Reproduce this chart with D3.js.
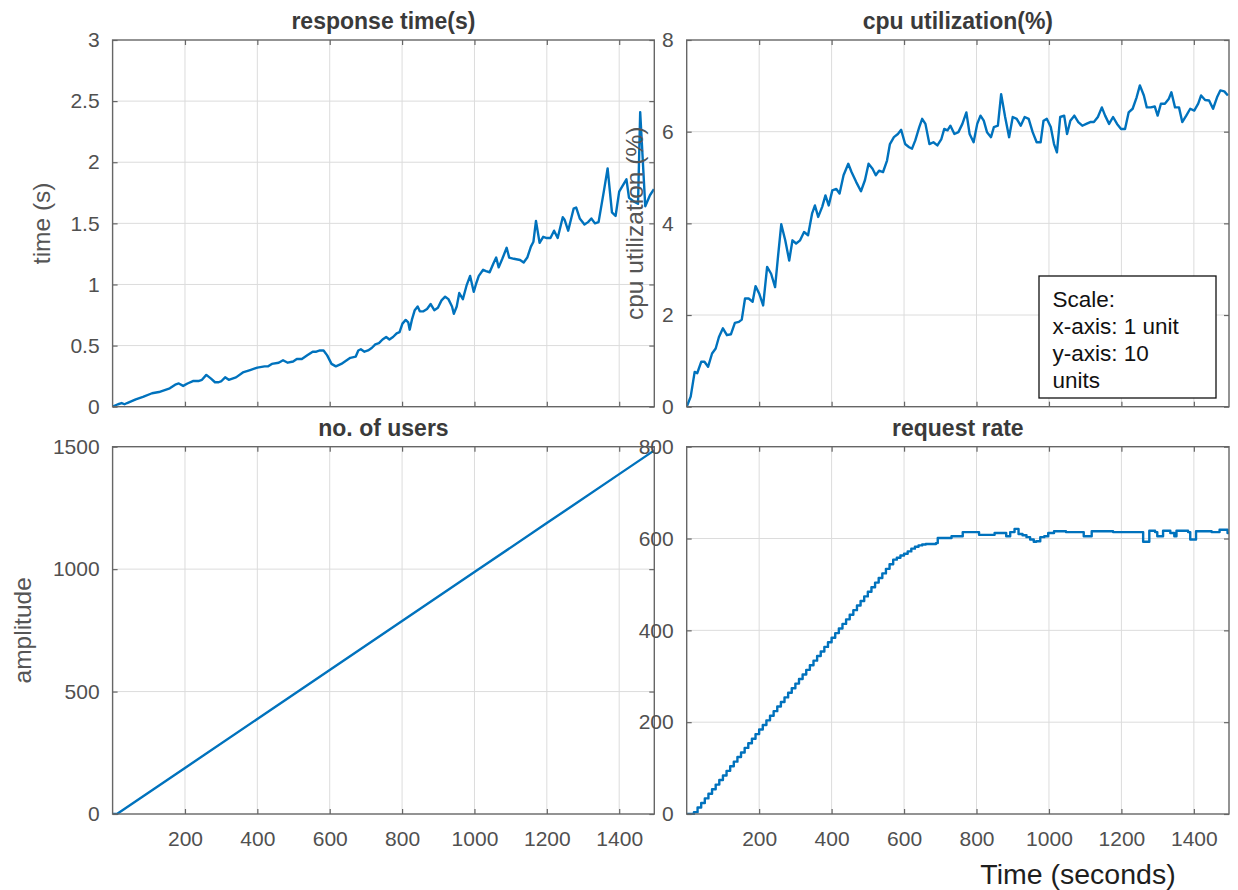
<!DOCTYPE html>
<html>
<head>
<meta charset="utf-8">
<script src="https://cdn.jsdelivr.net/npm/d3@7"></script>
<style>
  body { margin: 0; background: #fff; }
  text { font-family: "Liberation Sans", Arial, Helvetica, sans-serif; }
</style>
</head>
<body>
<svg id="fig" width="1238" height="890"></svg>
<script>
// ---------- shared x axis ----------
const xDomain = [0, 1497];
const xTicks = [200, 400, 600, 800, 1000, 1200, 1400];

// ---------- response time (s) ----------
const respTicks = [0, 0.5, 1, 1.5, 2, 2.5, 3];
const respT = [0,15,25,33,40,64,84,109,128,148,158,173,183,195,207,222,237,247,259,272,283,293,301,311,321,341,360,380,400,420,430,440,459,471,484,499,509,523,538,553,563,573,583,593,605,617,632,647,657,672,679,686,696,706,716,726,736,746,756,765,775,785,793,801,810,817,821,827,835,843,849,859,869,879,889,899,909,919,928,938,943,951,958,968,978,988,998,1005,1012,1024,1032,1042,1052,1060,1067,1077,1089,1096,1109,1126,1136,1146,1156,1163,1170,1180,1190,1200,1210,1220,1230,1244,1249,1259,1274,1281,1291,1304,1314,1323,1333,1343,1358,1368,1380,1390,1400,1408,1420,1427,1440,1452,1458,1472,1485,1496];
const respV = [0,.02,.03,.02,.03,.06,.08,.11,.12,.14,.15,.18,.19,.17,.19,.21,.21,.22,.26,.23,.20,.20,.21,.24,.22,.24,.28,.30,.32,.33,.33,.35,.36,.38,.36,.37,.39,.39,.42,.45,.45,.46,.46,.42,.35,.33,.35,.38,.40,.41,.46,.47,.45,.46,.48,.51,.52,.55,.57,.55,.57,.60,.61,.68,.71,.69,.63,.71,.79,.82,.78,.78,.80,.84,.79,.81,.87,.90,.88,.82,.76,.82,.93,.88,.99,1.07,.94,1.01,1.07,1.12,1.11,1.10,1.17,1.22,1.14,1.21,1.30,1.22,1.21,1.20,1.18,1.22,1.31,1.35,1.52,1.34,1.39,1.38,1.38,1.44,1.38,1.55,1.53,1.44,1.62,1.63,1.54,1.49,1.51,1.54,1.50,1.51,1.77,1.95,1.59,1.56,1.76,1.80,1.86,1.71,1.68,1.66,2.41,1.64,1.73,1.78];

// ---------- cpu utilization (%) ----------
const cpuTicks = [0, 2, 4, 6, 8];
const cpuT = [0,11,22,29,40,49,59,70,80,89,100,111,122,133,144,152,161,171,182,190,200,211,222,233,244,252,261,272,283,292,302,313,324,335,346,354,363,374,383,392,402,413,422,433,446,455,468,481,492,502,513,522,531,542,553,561,572,583,592,603,614,622,631,642,650,659,670,681,692,703,711,720,728,739,750,761,772,781,792,802,811,820,829,840,848,859,868,879,890,900,911,922,933,944,955,966,977,985,994,1005,1014,1022,1031,1042,1050,1059,1070,1081,1092,1103,1114,1124,1135,1146,1155,1166,1177,1188,1199,1210,1220,1231,1242,1251,1262,1270,1281,1292,1300,1309,1320,1331,1338,1348,1359,1368,1379,1390,1401,1412,1420,1431,1442,1453,1464,1473,1484,1494];
const cpuV = [0,0.22,0.76,0.73,0.98,0.98,0.87,1.16,1.27,1.52,1.71,1.56,1.58,1.83,1.85,1.90,2.36,2.36,2.29,2.63,2.47,2.21,3.05,2.90,2.61,3.27,3.98,3.63,3.19,3.63,3.56,3.63,3.81,3.74,4.21,4.39,4.14,4.36,4.61,4.39,4.72,4.75,4.65,5.05,5.30,5.12,4.90,4.70,4.94,5.30,5.19,5.05,5.15,5.12,5.37,5.73,5.88,5.95,6.04,5.73,5.66,5.63,5.81,6.10,6.28,6.17,5.73,5.77,5.70,5.84,6.06,6.03,6.13,5.95,5.99,6.17,6.42,5.95,5.77,6.17,6.35,6.24,5.99,5.88,6.10,6.13,6.82,6.32,5.88,6.32,6.28,6.13,6.32,6.28,5.99,5.77,5.77,6.24,6.28,6.10,5.73,5.55,6.32,6.35,5.95,6.24,6.35,6.21,6.13,6.17,6.21,6.21,6.32,6.53,6.35,6.17,6.32,6.17,6.06,6.06,6.42,6.50,6.75,7.01,6.79,6.53,6.53,6.55,6.35,6.61,6.61,6.72,6.86,6.53,6.53,6.21,6.35,6.50,6.46,6.61,6.79,6.69,6.68,6.50,6.75,6.90,6.88,6.79];

// ---------- no. of users ----------
const usersTicks = [0, 500, 1000, 1500];
const usersT = [0, 12, 200, 400, 600, 800, 1000, 1200, 1400, 1497];
const usersV = [0, 0, 188, 388, 588, 788, 988, 1188, 1388, 1485];

// ---------- request rate (step series) ----------
const reqTicks = [0, 200, 400, 600, 800];
const reqT = [0,20,30,40,50,60,70,80,90,100,110,120,130,140,150,160,170,180,190,200,210,220,230,240,250,260,270,280,290,300,310,320,330,340,350,360,370,380,390,400,410,420,430,440,450,460,470,480,490,500,510,520,530,540,550,560,570,
  580,590,600,610,620,630,640,650,660,
  688,693,731,762,807,850,882,893,905,916,927,938,948,958,965,976,987,998,1014,1047,1096,1118,1177,1260,1277,1293,1299,1315,1335,1346,1352,1384,1390,1406,1449,1471,1493,1497];
const reqV = [0,4,14,24,34,44,54,64,74,84,94,104,114,124,134,144,154,164,174,184,194,204,214,224,234,244,254,264,274,284,294,304,314,324,334,344,354,364,374,384,394,404,414,424,434,444,454,464,474,484,494,504,514,524,534,544,554,
  558,563,567,572,578,582,585,587,588,
  590,601,605,614,608,612,605,614,621,610,607,603,598,593,594,603,605,612,616,614,605,616,614,593,617,614,605,617,612,605,617,614,598,616,614,619,612,612];

// ---------- figure ----------
const svg = d3.select("#fig");
svg.append("rect").attr("width", 1238).attr("height", 890).attr("fill", "#fff");

const colL = [112.6, 654.3], colR = [686.7, 1229];
const rowT = [40, 406.7], rowB = [446.7, 814];

const LINE = "#0072BD", AXIS = "#666", GRID = "#dcdcdc", TICKTXT = "#505050";

function panel(cfg) {
  const [x0, x1] = cfg.cols, [y0, y1] = cfg.rows;
  const x = d3.scaleLinear().domain(xDomain).range([x0, x1]);
  const y = d3.scaleLinear().domain([cfg.yTicks[0], cfg.yTicks[cfg.yTicks.length - 1]]).range([y1, y0]);
  const g = svg.append("g");

  g.append("rect").attr("x", x0).attr("y", y0).attr("width", x1 - x0).attr("height", y1 - y0).attr("fill", "#fff");

  // grid
  g.append("g").selectAll("line").data(xTicks).join("line")
    .attr("x1", d => x(d)).attr("x2", d => x(d)).attr("y1", y0).attr("y2", y1)
    .attr("stroke", GRID).attr("stroke-width", 1);
  g.append("g").selectAll("line").data(cfg.yTicks.slice(1, -1)).join("line")
    .attr("y1", d => y(d)).attr("y2", d => y(d)).attr("x1", x0).attr("x2", x1)
    .attr("stroke", GRID).attr("stroke-width", 1);

  // series
  const clipId = "clip" + cfg.id;
  g.append("clipPath").attr("id", clipId).append("rect")
    .attr("x", x0).attr("y", y0 - 1).attr("width", x1 - x0).attr("height", y1 - y0 + 2);
  const pts = d3.zip(cfg.t, cfg.v);
  g.append("path").datum(pts)
    .attr("clip-path", `url(#${clipId})`)
    .attr("fill", "none").attr("stroke", LINE).attr("stroke-width", 2.4)
    .attr("stroke-linejoin", "round")
    .attr("d", d3.line().x(d => x(d[0])).y(d => y(d[1])).curve(cfg.curve || d3.curveLinear));

  // axes with inward ticks on all four sides
  const tickLen = -5;
  const bottom = g.append("g").attr("transform", `translate(0,${y1})`)
    .call(d3.axisBottom(x).tickValues(xTicks).tickSize(tickLen).tickPadding(17)
      .tickFormat(cfg.xLabels ? d3.format("d") : () => ""));
  const top = g.append("g").attr("transform", `translate(0,${y0})`)
    .call(d3.axisTop(x).tickValues(xTicks).tickSize(tickLen).tickFormat(() => ""));
  const left = g.append("g").attr("transform", `translate(${x0},0)`)
    .call(d3.axisLeft(y).tickValues(cfg.yTicks).tickSize(tickLen).tickPadding(13).tickFormat(d3.format("")));
  const right = g.append("g").attr("transform", `translate(${x1},0)`)
    .call(d3.axisRight(y).tickValues(cfg.yTicks).tickSize(tickLen).tickFormat(() => ""));
  [bottom, top, left, right].forEach(a => {
    a.select(".domain").remove();
    a.selectAll(".tick line").attr("stroke", AXIS).attr("stroke-width", 1.2);
    a.selectAll("text").attr("font-size", 21).attr("fill", TICKTXT)
      .style("font-family", '"Liberation Sans", Arial, sans-serif');
  });

  g.append("rect").attr("x", x0).attr("y", y0).attr("width", x1 - x0).attr("height", y1 - y0)
    .attr("fill", "none").attr("stroke", AXIS).attr("stroke-width", 1.4);

  // title
  g.append("text").attr("x", (x0 + x1) / 2).attr("y", y0 - 11)
    .attr("text-anchor", "middle").attr("font-size", 23).attr("font-weight", "bold")
    .attr("fill", "#3a3a3a").text(cfg.title);

  // y label
  if (cfg.ylabel) {
    const lx = x0 - cfg.ylabelOffset, ly = (y0 + y1) / 2;
    g.append("text").attr("transform", `translate(${lx},${ly}) rotate(-90)`)
      .attr("text-anchor", "middle").attr("font-size", 24.5).attr("fill", "#555")
      .text(cfg.ylabel);
  }
  return g;
}

panel({ id: 1, cols: colL, rows: rowT, yTicks: respTicks, t: respT, v: respV,
  title: "response time(s)", ylabel: "time (s)", ylabelOffset: 63, xLabels: false });
panel({ id: 2, cols: colR, rows: rowT, yTicks: cpuTicks, t: cpuT, v: cpuV,
  title: "cpu utilization(%)", ylabel: "cpu utilization (%)", ylabelOffset: 44, xLabels: false });

// scale note inside the cpu panel
const note = svg.append("g");
note.append("rect").attr("x", 1039).attr("y", 276).attr("width", 177).attr("height", 122)
  .attr("fill", "#fff").attr("stroke", "#111").attr("stroke-width", 1.3);
const noteLines = ["Scale:", "x-axis: 1 unit", "y-axis: 10", "units"];
note.selectAll("text").data(noteLines).join("text")
  .attr("x", 1052.5).attr("y", (d, i) => 306.5 + i * 27.3)
  .attr("font-size", 22.5).attr("fill", "#111").text(d => d);

panel({ id: 3, cols: colL, rows: rowB, yTicks: usersTicks, t: usersT, v: usersV,
  title: "no. of users", ylabel: "amplitude", ylabelOffset: 82, xLabels: true });
panel({ id: 4, cols: colR, rows: rowB, yTicks: reqTicks, t: reqT, v: reqV,
  title: "request rate", xLabels: true, curve: d3.curveStepAfter });

svg.append("text").attr("x", 1078).attr("y", 884).attr("text-anchor", "middle")
  .attr("font-size", 28.5).attr("fill", "#1e1e1e").text("Time (seconds)");
</script>
</body>
</html>
